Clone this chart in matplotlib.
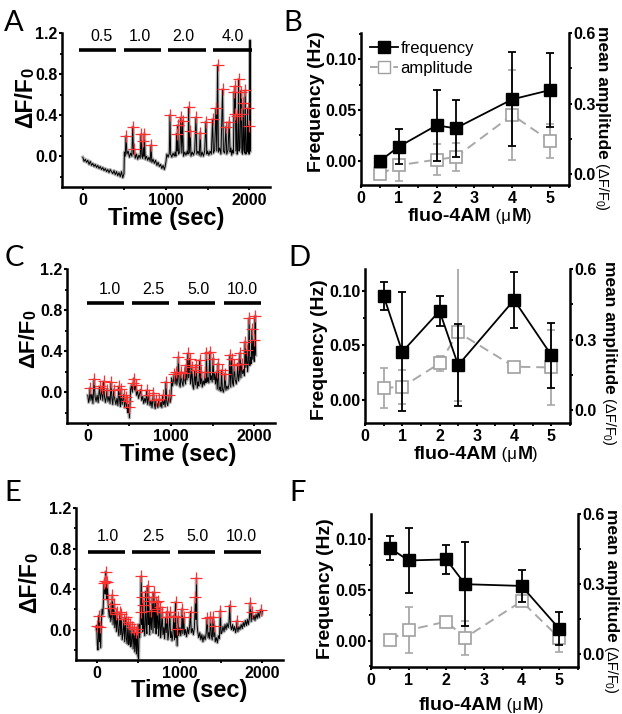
import numpy as np
import matplotlib
matplotlib.use("Agg")
import matplotlib.pyplot as plt
from matplotlib.lines import Line2D
from matplotlib.ticker import MultipleLocator, FormatStrFormatter

# ---------------- data ----------------
# stimulus bars (sec) and concentration labels
A_bars = [(-50, 400), (490, 940), (1030, 1480), (1570, 2030)]
A_bar_labels = ["0.5", "1.0", "2.0", "4.0"]
A_label_x = [220, 680, 1212, 1800]
C_bars = [(-12, 433), (534, 980), (1081, 1526), (1640, 2085)]
C_bar_labels = ["1.0", "2.5", "5.0", "10.0"]
C_label_x = [271, 787, 1334, 1860]
E_bars = [(-110, 340), (430, 890), (980, 1430), (1535, 1990)]
E_bar_labels = ["1.0", "2.5", "5.0", "10.0"]
E_label_x = [139, 681, 1223, 1743]

# traces (time sec, dF/F0)
A_trace = [(0,-0.01),(15,-0.05),(30,-0.03),(45,-0.06),(60,-0.04),(75,-0.08),(90,-0.05),(105,-0.09),
           (120,-0.07),(135,-0.10),(150,-0.08),(165,-0.11),(180,-0.09),(195,-0.12),(210,-0.10),(225,-0.13),
           (240,-0.11),(255,-0.14),(270,-0.12),(285,-0.15),(300,-0.13),(315,-0.16),(330,-0.13),(345,-0.15),
           (360,-0.17),(375,-0.14),(390,-0.18),(405,-0.15),(420,-0.19),(435,-0.16),(450,-0.20),(465,-0.15),
           (480,-0.21),(495,-0.17),
           (500,0.04),(510,0.0),(520,0.197),(530,0.02),(545,0.05),(560,-0.01),(575,0.03),(590,0.0),
           (600,0.285),(610,0.02),(620,0.066),(630,-0.02),(645,0.02),(660,-0.03),(675,0.01),(690,-0.02),
           (700,0.213),(710,0.0),(720,-0.02),(728,0.148),(735,0.0),(740,0.22),(750,-0.03),(765,0.0),
           (780,-0.04),(795,-0.01),(810,-0.05),(820,0.108),(830,-0.06),(845,-0.03),(860,-0.07),(875,-0.04),
           (890,-0.09),(905,-0.06),(920,-0.10),(935,-0.08),(950,-0.12),(965,-0.09),(980,-0.13),(990,-0.10),
           (1000,-0.05),(1010,0.02),(1025,-0.01),(1040,0.03),(1048,0.40),(1056,0.02),(1070,-0.01),(1085,0.03),
           (1100,0.0),(1110,0.04),(1120,0.0),(1128,0.22),(1134,0.05),(1140,0.30),(1150,0.02),(1165,0.04),
           (1180,0.377),(1190,0.03),(1200,0.344),(1210,0.0),(1225,0.04),(1240,0.01),(1255,0.05),(1265,0.02),
           (1272,0.476),(1280,0.03),(1292,0.25),(1300,0.0),(1315,0.04),(1330,0.01),(1345,0.05),(1360,0.377),
           (1370,0.02),(1385,0.05),(1400,0.01),(1412,0.23),(1420,0.0),(1435,0.04),(1450,0.0),(1465,0.05),
           (1480,0.335),(1490,0.02),(1500,0.05),
           (1515,0.01),(1530,0.05),(1545,0.02),(1560,0.36),(1570,0.03),(1585,0.06),(1600,0.466),(1610,0.05),
           (1620,0.886),(1630,0.04),(1645,0.08),(1660,0.02),(1680,0.65),(1690,0.05),(1705,0.03),(1720,0.285),
           (1730,0.02),(1745,0.06),(1760,0.335),(1770,0.04),(1780,0.08),(1790,0.01),(1800,0.06),(1810,0.03),
           (1820,0.63),(1826,0.41),(1832,0.68),(1840,0.05),(1848,0.394),(1855,0.02),(1865,0.06),(1872,0.75),
           (1880,0.05),(1890,0.08),(1900,0.63),(1906,0.41),(1912,0.04),(1920,0.02),(1928,0.515),(1936,0.06),
           (1944,0.03),(1952,0.64),(1960,0.02),(1970,0.06),(1980,0.466),(1986,0.04),(1992,0.295),(1998,0.02),
           (2005,0.06),(2010,1.13),(2015,0.05)]
A_peaks = [(520,0.197),(600,0.285),(620,0.066),(700,0.213),(728,0.148),(740,0.22),(820,0.108),
           (1048,0.40),(1128,0.22),(1140,0.30),(1180,0.377),(1200,0.344),(1272,0.476),(1292,0.25),
           (1360,0.377),(1412,0.23),(1480,0.335),(1560,0.36),(1600,0.466),(1620,0.886),(1680,0.65),
           (1720,0.285),(1760,0.335),(1820,0.63),(1826,0.41),(1832,0.68),(1848,0.394),(1872,0.75),
           (1900,0.63),(1906,0.41),(1928,0.515),(1952,0.64),(1980,0.466),(1992,0.295)]

C_trace = [(0,-0.03),(10,-0.10),(20,-0.06),(28,0.043),(38,-0.08),(50,-0.02),(62,-0.11),(76,0.125),
           (88,-0.05),(100,-0.09),(112,-0.03),(125,-0.10),(141,0.056),(152,-0.07),(162,-0.02),(170,0.043),
           (180,-0.08),(190,0.105),(200,-0.04),(212,-0.10),(222,-0.05),(230,0.024),(242,-0.09),(255,-0.04),
           (268,-0.11),(279,0.095),(290,-0.06),(300,-0.12),(312,0.024),(325,-0.07),(338,-0.12),(350,-0.06),
           (362,-0.13),(372,0.056),(384,-0.09),(392,-0.14),(400,0.033),(412,-0.12),(422,-0.08),(433,-0.023),
           (442,-0.15),(452,-0.10),(465,-0.049),(470,-0.16),(474,-0.082),(482,-0.20),(488,-0.12),(494,-0.14),
           (500,-0.25),
           (515,0.03),(525,0.07),(535,0.0),(546,0.089),(554,0.131),(562,0.02),(575,0.066),(585,-0.03),
           (598,0.01),(610,-0.06),(622,-0.02),(635,0.024),(648,-0.08),(660,-0.04),(672,-0.11),(685,-0.06),
           (698,-0.10),(708,0.017),(720,-0.12),(728,-0.07),(737,-0.032),(748,-0.13),(760,-0.08),(772,-0.15),
           (780,-0.09),(789,-0.009),(800,-0.12),(810,-0.16),(818,-0.075),(830,-0.11),(842,-0.15),(850,-0.09),
           (859,-0.066),(870,-0.14),(880,-0.10),(890,-0.15),(899,-0.032),(910,-0.12),(920,-0.08),(930,-0.14),
           (939,0.098),(950,-0.10),(960,-0.13),(970,-0.07),(980,-0.032),(990,-0.10),(1000,-0.06),
           (1008,0.14),(1018,0.06),(1030,0.12),(1040,0.18),(1050,0.08),(1061,0.197),(1070,0.07),(1080,0.13),
           (1089,0.338),(1098,0.09),(1110,0.05),(1122,0.197),(1132,0.10),(1145,0.06),(1154,0.187),(1165,0.12),
           (1175,0.08),(1182,0.262),(1192,0.12),(1203,0.377),(1212,0.14),(1223,0.328),(1235,0.08),(1243,0.13),
           (1251,0.246),(1262,0.06),(1272,0.03),(1284,0.213),(1294,0.07),(1304,0.262),(1315,0.04),(1325,0.10),
           (1335,0.06),(1344,0.311),(1355,0.08),(1365,0.197),(1375,0.05),(1388,0.11),(1400,0.07),(1413,0.197),
           (1420,0.09),(1425,0.383),(1435,0.10),(1445,0.14),(1455,0.09),(1466,0.393),(1475,0.12),(1485,0.16),
           (1495,0.10),(1506,0.328),
           (1515,0.12),(1525,0.18),(1535,0.08),(1547,0.197),(1556,0.03),(1567,0.279),(1578,0.02),(1590,0.05),
           (1600,0.01),(1607,0.213),(1618,0.03),(1630,0.0),(1640,0.05),(1648,0.18),(1660,0.02),(1672,0.06),
           (1685,0.03),(1698,0.08),(1708,0.361),(1718,0.05),(1729,0.328),(1740,0.09),(1750,0.06),(1761,0.262),
           (1772,0.12),(1785,0.08),(1795,0.15),(1802,0.279),(1812,0.11),(1822,0.17),(1830,0.383),(1840,0.14),
           (1851,0.279),(1862,0.18),(1872,0.22),(1882,0.16),(1891,0.492),(1900,0.24),(1911,0.41),(1920,0.20),
           (1930,0.30),(1939,0.721),(1948,0.26),(1958,0.34),(1965,0.28),(1972,0.613),(1982,0.32),(1992,0.508),
           (2000,0.30),(2006,0.40),(2012,0.744),(2018,0.36)]
C_peaks = [(28,0.043),(76,0.125),(141,0.056),(170,0.043),(190,0.105),(230,0.024),(279,0.095),(312,0.024),
           (372,0.056),(400,0.033),(433,-0.023),(465,-0.049),(474,-0.082),(494,-0.14),
           (546,0.089),(554,0.131),(575,0.066),(635,0.024),(708,0.017),(737,-0.032),(789,-0.009),
           (818,-0.075),(859,-0.066),(899,-0.032),(939,0.098),(980,-0.032),
           (1040,0.18),(1061,0.197),(1089,0.338),(1122,0.197),(1154,0.187),(1182,0.262),(1203,0.377),
           (1223,0.328),(1251,0.246),(1284,0.213),(1304,0.262),(1344,0.311),(1365,0.197),(1413,0.197),
           (1425,0.383),(1466,0.393),(1506,0.328),
           (1547,0.197),(1567,0.279),(1607,0.213),(1648,0.18),(1708,0.361),(1729,0.328),(1761,0.262),
           (1802,0.279),(1830,0.383),(1851,0.279),(1891,0.492),(1911,0.41),(1939,0.721),(1972,0.613),
           (1992,0.508),(2012,0.744)]

E_trace = [(-5,0.0),(0,0.039),(8,-0.15),(15,-0.20),(22,-0.05),(28,0.138),(35,-0.12),(40,0.023),
           (48,-0.18),(55,0.05),(65,0.20),(75,0.15),(82,0.30),(88,0.459),(96,0.482),(102,0.35),
           (108,0.57),(115,0.38),(122,0.30),(128,0.472),(136,0.302),(145,0.18),(152,0.12),(161,0.21),
           (170,0.08),(180,0.14),(189,0.341),(198,0.05),(209,0.253),(218,0.02),(229,0.155),(238,-0.02),
           (249,0.171),(258,0.0),(268,-0.06),(281,0.171),(290,-0.05),(297,0.155),(308,-0.10),(318,-0.04),
           (329,0.105),(338,-0.12),(349,0.121),(358,-0.09),(368,-0.14),(377,0.072),(388,-0.15),(395,-0.10),
           (402,0.056),(412,-0.17),(420,-0.12),(430,0.023),(440,-0.19),(450,0.007),(460,-0.22),(470,-0.026),
           (480,-0.24),(490,0.007),(498,-0.26),(506,-0.29),
           (512,0.05),(520,-0.08),(530,0.171),(538,0.525),(544,0.05),(550,0.318),(556,-0.02),(562,0.243),
           (570,0.02),(580,-0.06),(590,0.374),(598,0.04),(606,-0.04),(618,0.433),(624,0.05),(630,0.285),
           (640,-0.05),(651,0.187),(660,0.0),(671,0.318),(680,-0.03),(691,0.367),(700,0.02),(711,0.269),
           (717,-0.04),(723,0.204),(730,0.01),(739,0.285),(748,-0.06),(755,0.03),(763,0.22),(772,-0.08),
           (780,0.0),(791,0.171),(800,-0.05),(810,0.02),(820,-0.09),(831,0.121),(840,-0.03),(851,0.177),
           (860,-0.10),(870,-0.04),(884,0.171),(892,-0.08),(900,-0.02),(910,-0.11),(920,-0.05),(932,0.138),
           (940,-0.10),(952,0.269),(958,-0.08),(964,0.007),(972,-0.16),(980,0.121),(990,-0.06),(998,-0.02),
           (1005,0.02),(1015,-0.06),(1025,0.01),(1032,0.204),(1040,-0.04),(1052,0.121),(1060,-0.05),(1072,0.0),
           (1085,-0.07),(1098,0.02),(1110,-0.04),(1122,0.03),(1133,0.177),(1142,-0.03),(1155,0.01),(1168,-0.05),
           (1180,0.02),(1193,0.318),(1200,0.10),(1205,0.505),(1212,0.05),(1220,-0.02),(1232,-0.08),(1245,-0.03),
           (1258,-0.10),(1270,-0.05),(1283,-0.12),(1296,-0.06),(1310,-0.10),(1322,-0.04),(1334,0.111),(1345,-0.08),
           (1355,-0.03),(1365,-0.09),(1374,0.121),(1385,-0.06),(1395,-0.10),(1406,0.121),(1414,-0.07),(1422,0.039),
           (1432,-0.12),(1445,-0.08),(1458,-0.13),(1470,-0.06),(1482,-0.09),(1494,0.187),(1502,-0.04),
           (1512,-0.03),(1525,0.03),(1538,-0.02),(1550,0.05),(1562,0.0),(1575,0.06),(1588,0.02),(1598,0.07),
           (1607,0.236),(1616,0.04),(1628,0.0),(1640,0.05),(1652,-0.01),(1665,0.03),(1678,-0.03),(1688,0.02),
           (1695,0.088),(1705,-0.02),(1718,0.03),(1730,0.0),(1745,0.05),(1758,0.01),(1770,0.07),(1782,0.03),
           (1795,0.09),(1808,0.04),(1820,0.10),(1832,0.05),(1845,0.12),(1856,0.262),(1866,0.08),(1876,0.177),
           (1888,0.10),(1900,0.14),(1912,0.09),(1925,0.15),(1938,0.11),(1950,0.17),(1962,0.12),(1975,0.18),
           (1984,0.196),(1992,0.14),(2000,0.18)]
E_peaks = [(0,0.039),(28,0.138),(40,0.023),(88,0.459),(96,0.482),(108,0.57),(128,0.472),(136,0.302),
           (161,0.21),(189,0.341),(209,0.253),(229,0.155),(249,0.171),(281,0.171),(297,0.155),(329,0.105),
           (349,0.121),(377,0.072),(402,0.056),(430,0.023),(450,0.007),(470,-0.026),(490,0.007),
           (530,0.171),(538,0.525),(550,0.318),(562,0.243),(590,0.374),(618,0.433),(630,0.285),(651,0.187),
           (671,0.318),(691,0.367),(711,0.269),(723,0.204),(739,0.285),(763,0.22),(791,0.171),(831,0.121),
           (851,0.177),(884,0.171),(932,0.138),(952,0.269),(964,0.007),(980,0.121),
           (1032,0.204),(1052,0.121),(1133,0.177),(1193,0.318),(1205,0.505),(1334,0.111),(1374,0.121),
           (1406,0.121),(1422,0.039),(1494,0.187),(1607,0.236),(1695,0.088),(1856,0.262),(1876,0.177),
           (1984,0.196)]

# dose-response panels
conc = [0.5, 1, 2, 2.5, 4, 5]
B_freq = [0.0, 0.014, 0.035, 0.032, 0.0605, 0.0696]
B_freq_err = [0.0, 0.017, 0.035, 0.028, 0.046, 0.036]
B_amp = [0.0, 0.0385, 0.063, 0.073, 0.252, 0.142]
B_amp_err = [0.0, 0.065, 0.066, 0.06, 0.19, 0.072]
D_freq = [0.0957, 0.0441, 0.0818, 0.0318, 0.092, 0.041]
D_freq_err = [0.0125, 0.055, 0.014, 0.038, 0.026, 0.030]
D_amp = [0.095, 0.0995, 0.199, 0.331, 0.185, 0.182]
D_amp_err = [0.085, 0.073, 0.032, 0.29, 0.0, 0.16]
F_freq = [0.0911, 0.079, 0.080, 0.0557, 0.054, 0.012]
F_freq_err = [0.0115, 0.032, 0.014, 0.041, 0.016, 0.016]
F_amp = [0.061, 0.104, 0.14, 0.071, 0.227, 0.071]
F_amp_err = [0.0, 0.1, 0.0, 0.072, 0.0, 0.06]

# ---------------- style ----------------
plt.rcParams.update({
    "font.family": ["Liberation Sans", "DejaVu Sans"],
    "font.weight": "bold",
    "axes.linewidth": 1.8,
    "xtick.major.width": 1.5, "ytick.major.width": 1.5,
    "xtick.minor.width": 1.3, "ytick.minor.width": 1.3,
    "xtick.major.size": 2.5, "ytick.major.size": 2.5,
    "xtick.minor.size": 1.8, "ytick.minor.size": 1.8,
    "xtick.direction": "out", "ytick.direction": "out",
    "xtick.labelsize": 11.5, "ytick.labelsize": 11.5,
    "xtick.major.pad": 1.5, "ytick.major.pad": 0.6,
})

FW, FH = 622, 714
DPI = 100
fig = plt.figure(figsize=(FW / DPI, FH / DPI), dpi=DPI)
renderer = fig.canvas.get_renderer()


def ax_at(l, r, t, b):
    return fig.add_axes([l / FW, 1 - b / FH, (r - l) / FW, (b - t) / FH])


def seq_text(cx, cy, parts, rot=0):
    """Place text parts in sequence; (cx, cy) is the visual centre in pixels from top-left."""
    widths = []
    for s, size, w, dy in parts:
        t = fig.text(0, 0, s, fontsize=size, fontweight=w)
        widths.append(t.get_window_extent(renderer).width)
        t.remove()
    total = sum(widths)
    th = np.deg2rad(rot)
    d = np.array([np.cos(th), np.sin(th)])
    u = np.array([-np.sin(th), np.cos(th)])
    main = max(p[1] for p in parts) * DPI / 72
    c = np.array([cx, FH - cy]) - u * 0.36 * main
    start = c - d * total / 2
    adv = 0.0
    for (s, size, w, dy), wd in zip(parts, widths):
        p = start + d * adv + u * dy
        fig.text(p[0] / FW, p[1] / FH, s, fontsize=size, fontweight=w, rotation=rot,
                 rotation_mode="anchor", ha="left", va="baseline")
        adv += wd


def trace_panel(rect, trace, peaks, bars, bar_labels, label_x, bar_y, label_y):
    ax = ax_at(*rect)
    t, v = zip(*trace)
    ax.plot(t, v, color="#b5b5b5", lw=2.4, zorder=1)
    ax.plot(t, v, color="k", lw=0.7, zorder=2)
    pt, pv = zip(*peaks)
    ax.plot(pt, pv, "+", color="#ff3030", ms=8, mew=0.9, zorder=3)
    for x0, x1 in bars:
        ax.plot([x0, x1], [bar_y, bar_y], color="k", lw=2.6, solid_capstyle="butt", clip_on=False)
    for s, x in zip(bar_labels, label_x):
        ax.text(x, label_y, s, ha="center", va="center", fontsize=11.5, fontweight="normal")
    ax.set_xlim(-250, 2250)
    ax.set_ylim(-0.3, 1.2)
    for sp in ("top", "right"):
        ax.spines[sp].set_visible(False)
    ax.xaxis.set_major_locator(MultipleLocator(1000))
    ax.xaxis.set_minor_locator(MultipleLocator(500))
    ax.yaxis.set_major_locator(MultipleLocator(0.4))
    ax.yaxis.set_minor_locator(MultipleLocator(0.2))
    ax.yaxis.set_major_formatter(FormatStrFormatter("%.1f"))
    return ax


def dose_panel(rect, f, fe, a, ae, ylim_l, ylim_r):
    ax = ax_at(*rect)
    ax2 = ax.twinx()
    ax.set_zorder(ax2.get_zorder() + 1)
    ax.patch.set_visible(False)
    ax2.errorbar(conc, a, yerr=ae, color="#a8a8a8", ls=(0, (5, 3)), lw=1.4, marker="s", ms=8,
                 mfc="white", mec="#a0a0a0", mew=1.2, capsize=3, elinewidth=1.3, capthick=1.3)
    ax.errorbar(conc, f, yerr=fe, color="k", lw=1.3, marker="s", ms=8.5, mfc="k", mec="k",
                capsize=3, elinewidth=1.3, capthick=1.3)
    ax.set_xlim(0, 5.5)
    ax.set_ylim(*ylim_l)
    ax2.set_ylim(*ylim_r)
    for sp in ("top", "right"):
        ax.spines[sp].set_visible(False)
    for sp in ("top", "left", "bottom"):
        ax2.spines[sp].set_visible(False)
    ax.xaxis.set_major_locator(MultipleLocator(1))
    ax.xaxis.set_minor_locator(MultipleLocator(0.5))
    ax.xaxis.set_major_formatter(FormatStrFormatter("%d"))
    ax.yaxis.set_major_locator(MultipleLocator(0.05))
    ax.yaxis.set_minor_locator(MultipleLocator(0.025))
    ax.yaxis.set_major_formatter(FormatStrFormatter("%.2f"))
    ax2.yaxis.set_major_locator(MultipleLocator(0.3))
    ax2.yaxis.set_minor_locator(MultipleLocator(0.15))
    ax2.yaxis.set_major_formatter(FormatStrFormatter("%.1f"))
    return ax, ax2


# ---------------- panels ----------------
axA = trace_panel((62, 270, 33, 187), A_trace, A_peaks, A_bars, A_bar_labels, A_label_x, 1.03, 1.17)
axC = trace_panel((67, 275, 269, 423), C_trace, C_peaks, C_bars, C_bar_labels, C_label_x, 0.87, 1.0)
axE = trace_panel((76, 283, 508, 660), E_trace, E_peaks, E_bars, E_bar_labels, E_label_x, 0.77, 0.92)

axB, axB2 = dose_panel((361, 569, 33, 185), B_freq, B_freq_err, B_amp, B_amp_err,
                       (-0.0236, 0.1256), (-0.045, 0.6))
axD, axD2 = dose_panel((365, 570, 269, 423), D_freq, D_freq_err, D_amp, D_amp_err,
                       (-0.0216, 0.1206), (-0.054, 0.6))
axF, axF2 = dose_panel((371, 578, 514, 667), F_freq, F_freq_err, F_amp, F_amp_err,
                       (-0.0256, 0.1246), (-0.054, 0.6))

# legend in B
h_f = Line2D([], [], color="k", lw=1.3, marker="s", ms=8.5, mfc="k")
h_a = Line2D([], [], color="#a8a8a8", lw=1.4, ls=(0, (4, 2)), marker="s", ms=8, mfc="white", mec="#a0a0a0")
axB.legend([h_f, h_a], ["frequency", "amplitude"], loc="upper left",
           bbox_to_anchor=((370 - 361) / 208, 1 - (41 - 33) / 152), frameon=False,
           prop={"weight": "normal", "size": 12}, handlelength=1.7, handletextpad=0.12,
           borderpad=0, borderaxespad=0, labelspacing=0.3)

# axis labels
for cx, cy, size in [(24, 98, 16.5), (26, 339, 16), (28, 583, 16.5)]:
    seq_text(cx, cy, [("ΔF/F", size, "bold", 0), ("0", size * 0.72, "bold", -1)], rot=90)
for cx, cy in [(166, 217), (178, 452), (189, 689)]:
    seq_text(cx, cy, [("Time (sec)", 17, "bold", 0)])
for cx, cy in [(470, 214), (476, 452), (481, 703)]:
    seq_text(cx, cy, [("fluo-4AM", 14, "bold", 0), (" (μ", 12, "normal", 0),
                      ("M", 13, "bold", 0), (")", 12, "normal", 0)])
for cx, cy in [(314, 102), (317, 350), (323, 589)]:
    seq_text(cx, cy, [("Frequency (Hz)", 14, "bold", 0)], rot=90)
for cx, cy in [(604, 118), (611, 353), (613, 601)]:
    seq_text(cx, cy, [("mean amplitude", 12.5, "bold", 0), (" (ΔF/F", 10.5, "normal", 0),
                      ("0", 7.5, "normal", -2.5), (")", 10.5, "normal", 0)], rot=270)

# panel letters
for s, x, yb in [("A", 4, 31), ("B", 283, 31), ("C", 5, 266), ("D", 288, 266), ("E", 4, 501), ("F", 289, 501)]:
    fig.text(x / FW, 1 - yb / FH, s, fontsize=21, fontweight="normal", family=["Lato", "DejaVu Sans"],
             ha="left", va="baseline")

fig.savefig("out.png", dpi=DPI)
